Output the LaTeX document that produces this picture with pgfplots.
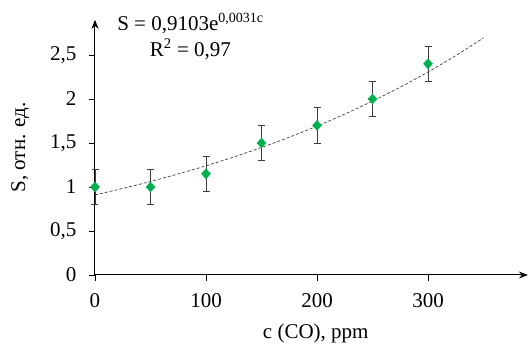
\documentclass[border=0pt]{standalone}
\usepackage{pgfplots}
\pgfplotsset{compat=1.18}
\usepackage{fontspec}
\setmainfont{Liberation Serif}
\usetikzlibrary{arrows.meta}
\definecolor{mkgreen}{RGB}{0,176,80}
\definecolor{errgray}{RGB}{60,60,60}
\begin{document}
\begin{tikzpicture}[font=\fontsize{21}{24}\selectfont]
\begin{axis}[
  x=1.11pt, y=88pt,
  xmin=0, xmax=390, ymin=0, ymax=2.9,
  axis lines=left,
  axis line style={line width=1pt},
  every outer x axis line/.append style={-{Stealth[length=9pt,width=7pt]}},
  every outer y axis line/.append style={-{Stealth[length=9pt,width=7pt]}},
  xtick={0,100,200,300},
  ytick={0,0.5,1,1.5,2,2.5},
  tick align=outside,
  major tick length=6pt,
  tick style={line width=0.8pt,black},
  /pgf/number format/use comma,
  /pgf/number format/assume math mode=true,
  xticklabel style={yshift=-9pt},
  yticklabel style={xshift=-9pt},
  xlabel={c (CO), ppm},
  ylabel={S, отн. ед.},
  xlabel style={at={(axis description cs:0.51,0)},anchor=center,yshift=-58pt},
  ylabel style={at={(axis description cs:-0.173,0.5)},anchor=center},
  clip=false,
]
\addplot[densely dashed, color=black!75, line width=0.7pt, smooth] coordinates {
  (0,0.9103) (25,0.9837) (50,1.0630) (75,1.1486) (100,1.2410) (125,1.3411)
  (150,1.4490) (175,1.5659) (200,1.6920) (225,1.8285) (250,1.9760)
  (275,2.1351) (300,2.3070) (325,2.4930) (350,2.6940)
};
\addplot[only marks, mark=diamond*, mark size=5pt, mark options={xscale=1.2}, color=mkgreen,
  error bars/.cd, y dir=both, y explicit,
  error bar style={color=errgray, line width=0.7pt},
  error mark options={rotate=90, mark size=3.5pt, color=errgray, line width=0.7pt}]
  coordinates {
  (0,1) +- (0,0.2)
  (50,1) +- (0,0.2)
  (100,1.15) +- (0,0.2)
  (150,1.5) +- (0,0.2)
  (200,1.7) +- (0,0.2)
  (250,2.0) +- (0,0.2)
  (300,2.4) +- (0,0.2)
};
\node[align=center, font=\fontsize{21}{26}\selectfont] at (axis cs:86,2.71)
  {S = 0,9103e\textsuperscript{\fontsize{14}{14}\selectfont 0,0031c}\\R\textsuperscript{2} = 0,97};
\end{axis}
\pgfresetboundingbox
\path (-95pt,-69pt) rectangle (434pt,275pt);
\end{tikzpicture}
\end{document}
